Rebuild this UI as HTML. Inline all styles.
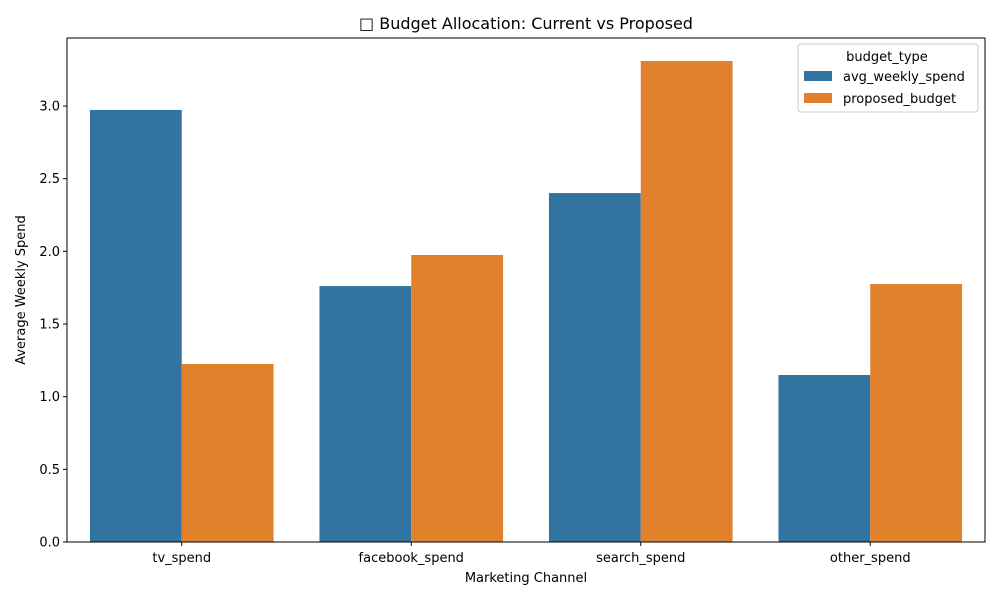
<!DOCTYPE html>
<html><head><meta charset="utf-8"><style>
body{margin:0;background:#fff;font-family:"Liberation Sans","DejaVu Sans",sans-serif;}
svg text{font-family:"DejaVu Sans","Liberation Sans",sans-serif;fill:#000;}
</style></head><body>
<svg id="chart" width="1000" height="600" viewBox="0 0 1000 600" xmlns="http://www.w3.org/2000/svg">
<rect width="1000" height="600" fill="#fff"/>
<text x="526" y="29" font-size="16" text-anchor="middle">□ Budget Allocation: Current vs Proposed</text>
<g id="plot"></g>
<rect x="67" y="38" width="918" height="504" fill="none" stroke="#000" stroke-width="1"/>
<text x="526" y="582" font-size="13" text-anchor="middle">Marketing Channel</text>
<text x="0" y="0" font-size="13" text-anchor="middle" transform="translate(25,290) rotate(-90)">Average Weekly Spend</text>
<g>
<rect x="798" y="44" width="180" height="68" fill="#fff" fill-opacity="0.8" stroke="#ccc" rx="3"/>
<text x="887" y="61" font-size="13" text-anchor="middle">budget_type</text>
<rect x="804" y="71" width="28" height="10" fill="#3274a1"/>
<text x="843" y="81" font-size="13">avg_weekly_spend</text>
<rect x="804" y="93" width="28" height="10" fill="#e1812c"/>
<text x="843" y="103" font-size="13">proposed_budget</text>
</g>
</svg>
<script>
const categories=["tv_spend","facebook_spend","search_spend","other_spend"];
const avgWeekly=[2.973,1.761,2.401,1.149];
const proposed=[1.225,1.975,3.31,1.775];
const yTicks=[0,0.5,1.0,1.5,2.0,2.5,3.0];
const yTickLabels=["0.0","0.5","1.0","1.5","2.0","2.5","3.0"];
const seriesNames=["avg","proposed"];

const L=67,R=985,T=38,B=542,yMax=3.468;
const y=v=>B-(v/yMax)*(B-T);
const band=(R-L)/categories.length;
const xc=i=>L+band*(i+0.5);
const g=document.getElementById('plot');
const NS="http://www.w3.org/2000/svg";
function mk(t,a){const e=document.createElementNS(NS,t);for(const k in a)e.setAttribute(k,a[k]);g.appendChild(e);return e;}
const bw=band*0.4;
[avgWeekly,proposed].forEach((s,si)=>{
 const col=si?"#e1812c":"#3274a1";
 s.forEach((v,i)=>{
  const x=xc(i)-bw+si*bw;
  const r=mk('rect',{x:x,y:y(v),width:bw,height:B-y(v),fill:col});
  
  
 });
});
yTicks.forEach((t,i)=>{
 const ln=mk('line',{x1:L-4,x2:L,y1:y(t),y2:y(t),stroke:'#000'});
 
 
 const tx=mk('text',{x:L-7,y:y(t)+4.5,'font-size':13,'text-anchor':'end'});
 tx.textContent=yTickLabels[i];
 
 
});
categories.forEach((c,i)=>{
 const ln=mk('line',{x1:xc(i),x2:xc(i),y1:B,y2:B+4,stroke:'#000'});
 
 
 const tx=mk('text',{x:xc(i),y:B+20,'font-size':13,'text-anchor':'middle'});
 tx.textContent=c;
 
 
});
</script>
</body></html>
